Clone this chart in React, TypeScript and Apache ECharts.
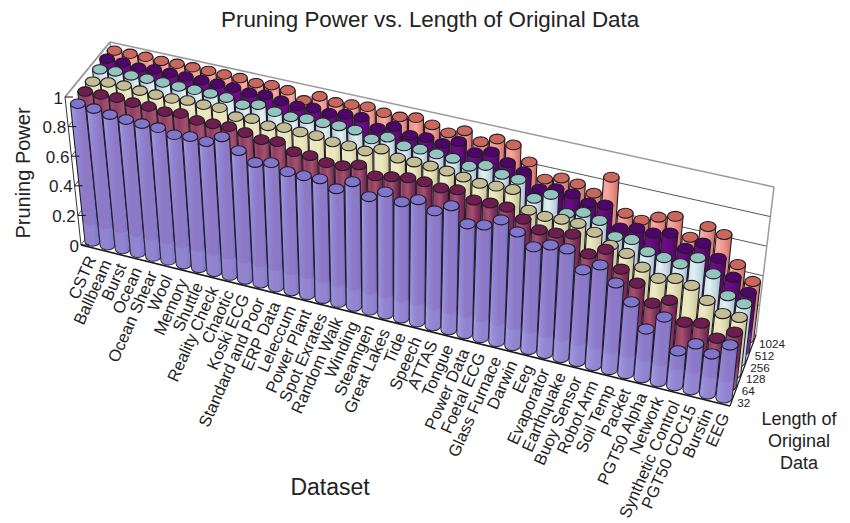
import React, { useEffect, useRef } from "react";
import * as echarts from "echarts";

const datasets = ["CSTR","Ballbeam","Burst","Ocean","Ocean Shear","Wool","Memory","Shuttle","Reality Check","Chaotic","Koski ECG","Standard and Poor","ERP Data","Leleccum","Power Plant","Spot Exrates","Random Walk","Winding","Steamgen","Great Lakes","Tide","Speech","ATTAS","Tongue","Power Data","Foetal ECG","Glass Furnace","Darwin","Eeg","Evaporator","Earthquake","Buoy Sensor","Robot Arm","Soil Temp","Packet","PGT50 Alpha","Network","Synthetic Control","PGT50 CDC15","Burstin","EEG"];
const lengths = ["32","64","128","256","512","1024"];
const powerTicks = [0, 0.2, 0.4, 0.6, 0.8, 1];

const len32 = [.935,.927,.912,.904,.902,.9,.878,.891,.883,.942,.874,.819,.844,.809,.808,.813,.772,.846,.771,.83,.789,.83,.781,.842,.746,.765,.827,.772,.698,.738,.738,.623,.683,.588,.487,.33,.439,.236,.312,.271,.36];
const len64 = [.953,.958,.962,.953,.952,.942,.955,.933,.936,.942,.927,.905,.917,.874,.873,.851,.856,.888,.839,.859,.878,.877,.862,.875,.833,.838,.837,.782,.735,.74,.76,.652,.71,.602,.534,.425,.472,.35,.371,.296,.364];
const len128 = [.957,.976,.98,.97,.968,.966,.977,.974,.978,.942,.954,.93,.943,.939,.939,.922,.92,.911,.95,.914,.913,.911,.903,.888,.871,.878,.881,.766,.75,.757,.755,.721,.659,.63,.563,.514,.54,.519,.444,.382,.383];
const len256 = [.978,.988,.985,.987,.986,.983,.985,.985,.981,.957,.982,.958,.948,.96,.957,.962,.958,.922,.96,.925,.928,.921,.917,.888,.919,.884,.875,.771,.824,.719,.752,.724,.64,.646,.59,.576,.56,.628,.545,.423,.395];
const len512 = [.989,.986,.974,.987,.987,.986,.986,.985,.984,.971,.982,.965,.954,.965,.954,.971,.976,.925,.963,.926,.936,.92,.959,.908,.938,.889,.852,.76,.787,.777,.741,.753,.622,.646,.638,.665,.586,.648,.571,.469,.393];
const len1024 = [.982,.984,.987,.982,.986,.986,.985,.984,.983,.972,.982,.971,.925,.978,.96,.97,.979,.962,.958,.977,.952,.922,.961,.91,.954,.938,.846,.753,.786,.77,.732,.867,.646,.624,.67,.701,.584,.683,.654,.476,.388];
const rows = [len32, len64, len128, len256, len512, len1024];

const bodyStops = [
  ["#a89fe2", "#9186d3", "#8f78c5", "#877bca", "#7468ba"],
  ["#a4566f", "#8f3b63", "#a4526f", "#7e3059", "#691e4d"],
  ["#f1efca", "#e9e6ba", "#ece9c0", "#d9d5a8", "#c2bd95"],
  ["#aec6d8", "#c8dce6", "#e2f0f0", "#c4d8e4", "#9db6c8"],
  ["#5e0a74", "#6b0a82", "#700a88", "#5c0972", "#45085a"],
  ["#e98b80", "#f09a91", "#f8a8a0", "#e58a80", "#c56a60"],
];
const capColors = ["#7f75cb", "#6e1d4f", "#c3bd93", "#93c4be", "#4d0668", "#c9675b"];

const FONT = "'Liberation Sans', Arial, sans-serif";
const W = 850;
const H = 523;

type P = [number, number];
function homography(p0: P, p1: P, p2: P, p3: P) {
  const dx1 = p1[0] - p2[0], dx2 = p3[0] - p2[0], sx = p0[0] - p1[0] + p2[0] - p3[0];
  const dy1 = p1[1] - p2[1], dy2 = p3[1] - p2[1], sy = p0[1] - p1[1] + p2[1] - p3[1];
  const den = dx1 * dy2 - dx2 * dy1;
  const g = (sx * dy2 - dx2 * sy) / den;
  const h = (dx1 * sy - sx * dy1) / den;
  const a = p1[0] - p0[0] + g * p1[0], b = p3[0] - p0[0] + h * p3[0];
  const d = p1[1] - p0[1] + g * p1[1], e = p3[1] - p0[1] + h * p3[1];
  return (u: number, w: number): P => {
    const q = g * u + h * w + 1;
    return [(a * u + b * w + p0[0]) / q, (d * u + e * w + p0[1]) / q];
  };
}
const floorPlane = homography([81, 245], [730, 406], [756, 335], [126, 182]);
const bilinear = (a: number, b: number, c: number, d: number, u: number, w: number) =>
  (1 - w) * ((1 - u) * a + u * b) + w * ((1 - u) * d + u * c);
const project = (u: number, w: number, v: number): P => {
  const a = floorPlane(u, w);
  return [a[0] + v * bilinear(-16, 17, 18, -16, u, w), a[1] - v * bilinear(148, 147, 148, 140, u, w)];
};
const toUV = (api: any, x: number, v: number) => {
  const p = api.coord([x, v]);
  return [p[0] / W, 1 - p[1] / H];
};

const cylinder = (r: number) => (_: any, api: any) => {
  const x = api.value(0), val = api.value(1);
  const [u, v] = toUV(api, x, val);
  const w = (r + 0.5) / 6;
  const b = project(u, w, 0), t = project(u, w, v);
  const du = 0.49 / 41;
  const l = project(u - du, w, 0), rr = project(u + du, w, 0);
  const rx = (rr[0] - l[0]) / 2;
  const ry = rx * 0.64;
  const mid = project(u, w, Math.min(v, 0.14));
  const body = `M${t[0] - rx} ${t[1]}L${b[0] - rx} ${b[1]}A${rx} ${ry} 0 0 0 ${b[0] + rx} ${b[1]}L${t[0] + rx} ${t[1]}Z`;
  const low = `M${mid[0] - rx} ${mid[1]}L${b[0] - rx} ${b[1]}A${rx} ${ry} 0 0 0 ${b[0] + rx} ${b[1]}L${mid[0] + rx} ${mid[1]}A${rx} ${ry} 0 0 1 ${mid[0] - rx} ${mid[1]}Z`;
  const s = bodyStops[r];
  return {
    type: "group",
    children: [
      {
        type: "path",
        shape: { pathData: body },
        style: {
          fill: new echarts.graphic.LinearGradient(0, 0, 1, 0, [
            { offset: 0, color: s[0] },
            { offset: 0.22, color: s[1] },
            { offset: 0.5, color: s[2] },
            { offset: 0.78, color: s[3] },
            { offset: 1, color: s[4] },
          ]),
          stroke: "#211c28",
          lineWidth: 1.1,
        },
      },
      {
        type: "path",
        shape: { pathData: low },
        style: { fill: "rgba(170,170,235,0.22)", stroke: "none" },
      },
      {
        type: "ellipse",
        shape: { cx: t[0], cy: t[1], rx, ry },
        style: { fill: capColors[r], stroke: "#211c28", lineWidth: 1.1 },
      },
    ],
  };
};

const line = (a: P, b: P, stroke: string, lineWidth: number) => ({
  type: "line",
  shape: { x1: a[0], y1: a[1], x2: b[0], y2: b[1] },
  style: { stroke, lineWidth },
});

const wallItem = (_: any, api: any) => {
  const [, v] = toUV(api, 0, api.value(1));
  const isTop = v > 0.999;
  const c = isTop ? "#9a9a9a" : "#2a2a2a";
  return {
    type: "group",
    children: [
      line(project(0, 1, v), project(1, 1, v), c, isTop ? 1.5 : 0.8),
      line(project(0, 0, v), project(0, 1, v), c, isTop ? 1.5 : 0.8),
    ],
  };
};

const tickItem = (_: any, api: any) => {
  const [, v] = toUV(api, 0, api.value(1));
  const e = project(0, 0, v);
  return {
    type: "group",
    children: [
      line(e, [e[0] + 8, e[1]], "#111", 1),
      {
        type: "text",
        x: e[0] - 2,
        y: e[1] + 1,
        style: { text: String(api.value(1)), align: "right", verticalAlign: "middle", font: `17px ${FONT}`, fill: "#222" },
      },
    ],
  };
};

const datasetLabel = (params: any, api: any) => {
  const [u] = toUV(api, api.value(0), 0);
  const e = project(u, 0, 0);
  return {
    type: "text",
    x: e[0] + 3,
    y: e[1] + 10,
    rotation: (66 * Math.PI) / 180,
    style: { text: datasets[params.dataIndex], align: "right", verticalAlign: "middle", font: `16.6px ${FONT}`, fill: "#222" },
  };
};

const lengthLabel = (params: any, api: any) => {
  const e = project(1, (api.value(0) + 0.5) / 6, 0);
  return {
    type: "text",
    x: e[0] + 5,
    y: e[1] + 3,
    style: { text: lengths[params.dataIndex], align: "left", verticalAlign: "middle", font: `11.7px ${FONT}`, fill: "#222" },
  };
};

const edgesItem = () => {
  const a = project(0, 0, 0), b = project(1, 0, 0), c = project(1, 1, 0), d = project(0, 0, 1);
  return {
    type: "group",
    children: [line(a, b, "#1a1a1a", 1.6), line(b, c, "#1a1a1a", 1.2), line(a, d, "#333", 1)],
  };
};
const backEdges = () => {
  const f = project(1, 1, 1), c = project(1, 1, 0), g = project(0, 1, 1), h = project(0, 1, 0), d = project(0, 0, 1);
  return {
    type: "group",
    children: [line(f, c, "#9a9a9a", 1.5), line(g, h, "#9a9a9a", 1.5), line(d, g, "#9a9a9a", 1.5)],
  };
};

export default function App() {
  const ref = useRef<HTMLDivElement>(null);
  useEffect(() => {
    const chart = echarts.init(ref.current!, null, { renderer: "svg" });
    const base = { type: "custom", silent: true, coordinateSystem: "cartesian2d", clip: false, encode: { x: 0, y: 1 } };
    chart.setOption({
      animation: false,
      backgroundColor: "#fff",
      title: {
        text: "Pruning Power vs. Length of Original Data",
        left: 216,
        top: 3,
        textStyle: { fontFamily: FONT, fontWeight: "normal", fontSize: 22.4, color: "#222" },
      },
      grid: { left: 0, right: 0, top: 0, bottom: 0 },
      xAxis: { type: "value", min: 0, max: 41, show: false },
      yAxis: { type: "value", min: 0, max: 1, show: false },
      series: [
        { ...base, name: "walls", data: powerTicks.map((t) => [0, t]), renderItem: wallItem },
        { ...base, name: "box", data: [[0, 0]], renderItem: backEdges },
        ...[5, 4, 3, 2, 1, 0].map((r) => ({
          ...base,
          name: lengths[r],
          data: rows[r].map((v, i) => [i + 0.5, v]),
          renderItem: cylinder(r),
        })),
        { ...base, name: "edges", data: [[0, 0]], renderItem: edgesItem },
        { ...base, name: "power ticks", data: powerTicks.map((t) => [0, t]), renderItem: tickItem },
        { ...base, name: "datasets", data: datasets.map((_, i) => [i + 0.5, 0]), renderItem: datasetLabel },
        { ...base, name: "lengths", data: lengths.map((_, i) => [i, 0]), renderItem: lengthLabel },
      ],
      graphic: [
        { type: "text", x: 23, y: 173, rotation: Math.PI / 2, style: { text: "Pruning Power", align: "center", verticalAlign: "middle", font: `20px ${FONT}`, fill: "#222" } },
        { type: "text", x: 330, y: 487, style: { text: "Dataset", align: "center", verticalAlign: "middle", font: `23px ${FONT}`, fill: "#222" } },
        { type: "text", x: 799, y: 419, style: { text: "Length of", align: "center", verticalAlign: "middle", font: `18px ${FONT}`, fill: "#222" } },
        { type: "text", x: 799, y: 441, style: { text: "Original", align: "center", verticalAlign: "middle", font: `18px ${FONT}`, fill: "#222" } },
        { type: "text", x: 799, y: 463, style: { text: "Data", align: "center", verticalAlign: "middle", font: `18px ${FONT}`, fill: "#222" } },
      ],
    });
    return () => chart.dispose();
  }, []);
  return <div ref={ref} style={{ position: "fixed", left: 0, top: 0, width: W, height: H }} />;
}
